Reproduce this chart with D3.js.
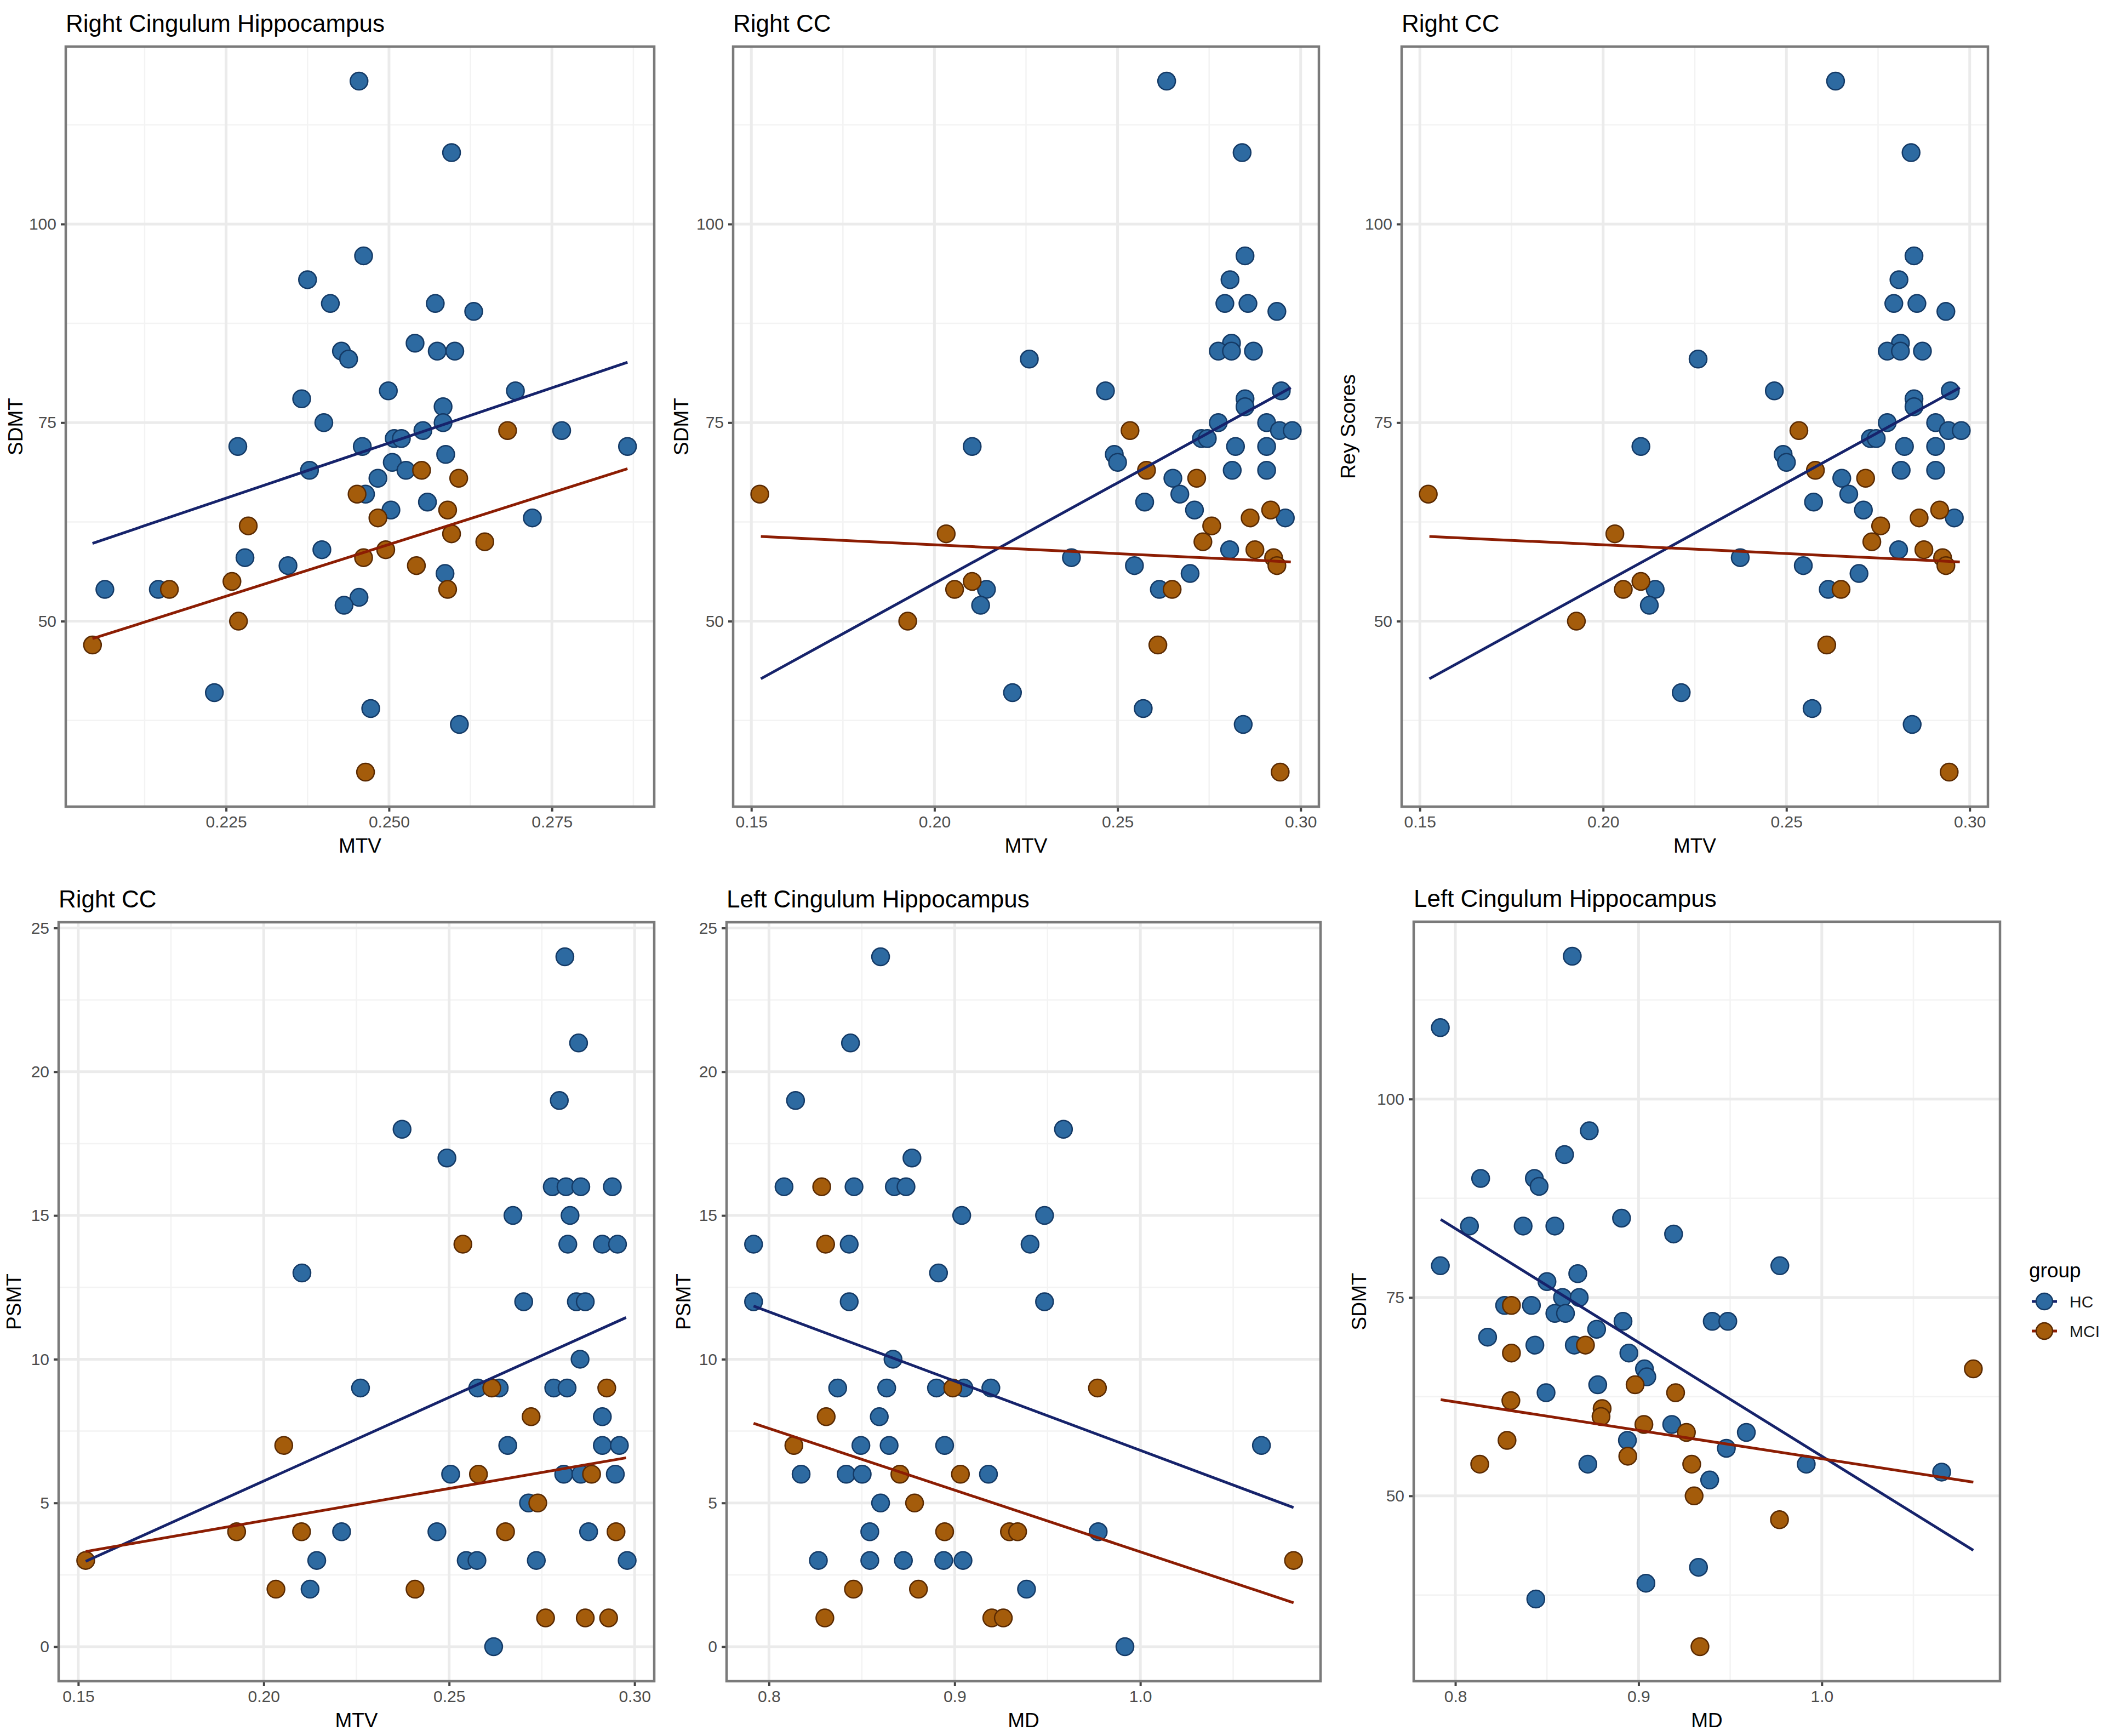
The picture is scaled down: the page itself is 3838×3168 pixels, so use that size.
<!DOCTYPE html>
<html><head><meta charset="utf-8">
<script src="https://cdn.jsdelivr.net/npm/d3@7"></script>
<style>
body{margin:0;background:#fff}
svg{display:block}
text{font-family:"Liberation Sans",Arial,Helvetica,sans-serif}
</style></head>
<body><svg id="chart" width="3838" height="3168"></svg>
<script>
// ---------------- DATA ----------------
const groups = ["HC", "MCI"];

// Panel 1: Right Cingulum Hippocampus, MTV vs SDMT
const p1HcX = [0.2454,0.2596,0.2461,0.2375,0.2410,0.2571,0.2630,0.2540,0.2427,0.2438,0.2574,0.2601,0.2499,0.2694,0.2366,0.2583,0.2400,0.2583,0.2552,0.2765,0.2268,0.2459,0.2866,0.2508,0.2519,0.2587,0.2505,0.2378,0.2526,0.2483,0.2464,0.2559,0.2503,0.2720,0.2397,0.2279,0.2345,0.2586,0.2064,0.2146,0.2454,0.2431,0.2232,0.2472,0.2608];
const p1HcY = [118,109,96,93,90,90,89,85,84,83,84,84,79,79,78,77,75,75,74,74,72,72,72,73,73,71,70,69,69,68,66,65,64,63,59,58,57,56,54,54,53,52,41,39,37];
const p1MciX = [0.2682,0.2550,0.2607,0.2451,0.2590,0.2483,0.2284,0.2596,0.2647,0.2495,0.2461,0.2542,0.2259,0.2163,0.2590,0.2269,0.2045,0.2464];
const p1MciY = [74,69,68,66,64,63,62,61,60,59,58,57,55,54,54,50,47,31];
const p1HcLine = [[0.2045,59.8],[0.2866,82.6]];
const p1MciLine = [[0.2045,47.8],[0.2866,69.2]];
const p1XTicks = [0.225,0.250,0.275];
const p1YTicks = [50,75,100];

// Panel 2 / 3: Right CC, MTV vs SDMT (and Rey Scores)
const p2HcX = [0.2634,0.2840,0.2848,0.2807,0.2793,0.2856,0.2935,0.2811,0.2775,0.2811,0.2871,0.2259,0.2467,0.2947,0.2848,0.2848,0.2775,0.2907,0.2942,0.2977,0.2103,0.2822,0.2907,0.2729,0.2745,0.2491,0.2500,0.2813,0.2907,0.2651,0.2670,0.2574,0.2710,0.2958,0.2806,0.2374,0.2546,0.2698,0.2142,0.2614,0.2126,0.2213,0.2570,0.2843];
const p2HcY = [118,109,96,93,90,90,89,85,84,84,84,83,79,79,78,77,75,75,74,74,72,72,72,73,73,71,70,69,69,68,66,65,64,63,59,58,57,56,54,54,52,41,39,37];
const p2MciX = [0.2534,0.2579,0.2716,0.1523,0.2918,0.2862,0.2757,0.2032,0.2733,0.2875,0.2926,0.2935,0.2103,0.2055,0.2649,0.1927,0.2610,0.2944];
const p2MciY = [74,69,68,66,64,63,62,61,60,59,58,57,55,54,54,50,47,31];
const p2HcLine = [[0.1526,42.75],[0.2973,79.4]];
const p2MciLine = [[0.1526,60.67],[0.2973,57.46]];
const ccXTicks = [0.15,0.20,0.25,0.30];
const sdmtYTicks = [50,75,100];

// Panel 4: Right CC, MTV vs PSMT
const p4HcX = [0.2812,0.2849,0.2797,0.2373,0.2494,0.2778,0.2815,0.2855,0.2940,0.2672,0.2826,0.2820,0.2913,0.2954,0.2103,0.2701,0.2843,0.2867,0.2853,0.2261,0.2577,0.2635,0.2782,0.2818,0.2913,0.2658,0.2913,0.2959,0.2504,0.2809,0.2855,0.2948,0.2714,0.2210,0.2467,0.2876,0.2143,0.2546,0.2575,0.2735,0.2980,0.2125,0.2620];
const p4HcY = [24,21,19,18,17,16,16,16,16,15,15,14,14,14,13,12,12,12,10,9,9,9,9,9,8,7,7,7,6,6,6,6,5,4,4,4,3,3,3,3,3,2,0];
const p4MciX = [0.2537,0.2615,0.2925,0.2721,0.2054,0.2579,0.2884,0.2739,0.1927,0.2102,0.2652,0.2950,0.1520,0.2033,0.2408,0.2760,0.2867,0.2930];
const p4MciY = [14,9,9,8,7,6,6,5,4,4,4,4,3,2,2,1,1,1];
const p4HcLine = [[0.1520,2.97],[0.2977,11.45]];
const p4MciLine = [[0.1520,3.31],[0.2977,6.57]];
const psmtYTicks = [0,5,10,15,20,25];

// Panel 5: Left Cingulum Hippocampus, MD vs PSMT
const p5HcX = [0.8601,0.8439,0.8143,0.9586,0.8770,0.8081,0.8458,0.8675,0.8738,0.9038,0.9484,0.7917,0.8432,0.9406,0.8913,0.7917,0.8432,0.9484,0.8668,0.8370,0.8634,0.8902,0.9050,0.9195,0.8594,0.8495,0.8647,0.8946,1.0652,0.8173,0.8416,0.8502,0.9182,0.8601,0.8543,0.9773,0.8266,0.8543,0.8724,0.8941,0.9045,0.9387,0.9917];
const p5HcY = [24,21,19,18,17,16,16,16,16,15,15,14,14,14,13,12,12,12,10,9,9,9,9,9,8,7,7,7,7,6,6,6,6,5,4,4,3,3,3,3,3,2,0];
const p5MciX = [0.8284,0.8305,0.8990,0.9769,0.8308,0.8134,0.8705,0.9031,0.8784,0.8946,0.9295,0.9339,1.0825,0.8455,0.8805,0.8301,0.9200,0.9262];
const p5MciY = [16,14,9,9,8,7,6,6,5,4,4,4,3,2,2,1,1,1];
const p5HcLine = [[0.7917,11.85],[1.0825,4.84]];
const p5MciLine = [[0.7917,7.77],[1.0825,1.53]];
const mdXTicks = [0.8,0.9,1.0];

// Panel 6: Left Cingulum Hippocampus, MD vs SDMT
const p6HcX = [0.8638,0.7918,0.8731,0.8596,0.8138,0.8431,0.8457,0.8907,0.8077,0.8370,0.8543,0.9191,0.7918,0.9771,0.8668,0.8500,0.8585,0.8676,0.8269,0.8415,0.8915,0.9402,0.9487,0.8543,0.8601,0.8771,0.8176,0.8434,0.8649,0.8947,0.9032,0.9045,0.8777,0.8495,0.9181,0.9588,0.8939,0.9479,0.8723,0.9915,1.0654,0.9388,0.9327,0.9040,0.8439];
const p6HcY = [118,109,96,93,90,90,89,85,84,84,84,83,79,79,78,77,75,75,74,74,72,72,72,73,73,71,70,69,69,68,66,65,64,63,59,58,57,56,54,54,53,52,41,39,37];
const p6MciX = [0.8306,0.8710,0.8306,1.0827,0.8981,0.9202,0.8303,0.8801,0.8795,0.9029,0.9261,0.8282,0.8941,0.8133,0.9290,0.9303,0.9769,0.9335];
const p6MciY = [74,69,68,66,64,63,62,61,60,59,58,57,55,54,54,50,47,31];
const p6HcLine = [[0.7920,84.83],[1.0827,43.14]];
const p6MciLine = [[0.7920,62.12],[1.0827,51.73]];

// ---------------- STYLE / LAYOUT ----------------
const COL = {
  HC:  {fill:"#2d6aa1", stroke:"#143a66", line:"#16236b"},
  MCI: {fill:"#a45c0b", stroke:"#5a2a02", line:"#8c1d03"}
};
const panels = [
  {title:"Right Cingulum Hippocampus", xlab:"MTV", ylab:"SDMT", l:120,  r:1194, t:85,   b:1472, yl:28,
   hcX:p1HcX, hcY:p1HcY, mciX:p1MciX, mciY:p1MciY, hcL:p1HcLine, mciL:p1MciLine, xt:p1XTicks, yt:p1YTicks, xf:".3f"},
  {title:"Right CC", xlab:"MTV", ylab:"SDMT", l:1338, r:2407, t:85, b:1472, yl:1243,
   hcX:p2HcX, hcY:p2HcY, mciX:p2MciX, mciY:p2MciY, hcL:p2HcLine, mciL:p2MciLine, xt:ccXTicks, yt:sdmtYTicks, xf:".2f"},
  {title:"Right CC", xlab:"MTV", ylab:"Rey Scores", l:2558, r:3628, t:85, b:1472, yl:2460,
   hcX:p2HcX, hcY:p2HcY, mciX:p2MciX, mciY:p2MciY, hcL:p2HcLine, mciL:p2MciLine, xt:ccXTicks, yt:sdmtYTicks, xf:".2f"},
  {title:"Right CC", xlab:"MTV", ylab:"PSMT", l:107, r:1194, t:1683, b:3068, yl:25,
   hcX:p4HcX, hcY:p4HcY, mciX:p4MciX, mciY:p4MciY, hcL:p4HcLine, mciL:p4MciLine, xt:ccXTicks, yt:psmtYTicks, xf:".2f"},
  {title:"Left Cingulum Hippocampus", xlab:"MD", ylab:"PSMT", l:1326, r:2410, t:1683, b:3068, yl:1247,
   hcX:p5HcX, hcY:p5HcY, mciX:p5MciX, mciY:p5MciY, hcL:p5HcLine, mciL:p5MciLine, xt:mdXTicks, yt:psmtYTicks, xf:".1f"},
  {title:"Left Cingulum Hippocampus", xlab:"MD", ylab:"SDMT", l:2580, r:3650, t:1682, b:3068, yl:2480,
   hcX:p6HcX, hcY:p6HcY, mciX:p6MciX, mciY:p6MciY, hcL:p6HcLine, mciL:p6MciLine, xt:mdXTicks, yt:sdmtYTicks, xf:".1f"}
];

const svg = d3.select("#chart");
svg.append("rect").attr("width",3838).attr("height",3168).attr("fill","#fff");

function expand(vals){
  const [a,b] = d3.extent(vals); const d=(b-a)*0.05; return [a-d,b+d];
}
function minors(ticks, dom){
  const s = ticks[1]-ticks[0], out=[];
  for(let v=ticks[0]-s/2; v<=dom[1]; v+=s){ if(v>=dom[0]) out.push(v); }
  return out;
}

panels.forEach(p=>{
  const allX = p.hcX.concat(p.mciX, p.hcL.map(d=>d[0]), p.mciL.map(d=>d[0]));
  const allY = p.hcY.concat(p.mciY, p.hcL.map(d=>d[1]), p.mciL.map(d=>d[1]));
  const x = d3.scaleLinear().domain(expand(allX)).range([p.l,p.r]);
  const y = d3.scaleLinear().domain(expand(allY)).range([p.b,p.t]);
  const g = svg.append("g");

  // minor grid
  g.selectAll(".mx").data(minors(p.xt,x.domain())).join("line")
    .attr("x1",d=>x(d)).attr("x2",d=>x(d)).attr("y1",p.t).attr("y2",p.b)
    .attr("stroke","#f3f3f3").attr("stroke-width",2.5);
  g.selectAll(".my").data(minors(p.yt,y.domain())).join("line")
    .attr("y1",d=>y(d)).attr("y2",d=>y(d)).attr("x1",p.l).attr("x2",p.r)
    .attr("stroke","#f3f3f3").attr("stroke-width",2.5);
  // major grid
  g.selectAll(".gx").data(p.xt).join("line")
    .attr("x1",d=>x(d)).attr("x2",d=>x(d)).attr("y1",p.t).attr("y2",p.b)
    .attr("stroke","#ebebeb").attr("stroke-width",5);
  g.selectAll(".gy").data(p.yt).join("line")
    .attr("y1",d=>y(d)).attr("y2",d=>y(d)).attr("x1",p.l).attr("x2",p.r)
    .attr("stroke","#ebebeb").attr("stroke-width",5);

  // axes
  const xa = g.append("g").attr("transform",`translate(0,${p.b})`)
    .call(d3.axisBottom(x).tickValues(p.xt).tickFormat(d3.format(p.xf)).tickSize(9).tickPadding(8));
  const ya = g.append("g").attr("transform",`translate(${p.l},0)`)
    .call(d3.axisLeft(y).tickValues(p.yt).tickFormat(d3.format("d")).tickSize(9).tickPadding(8));
  [xa,ya].forEach(a=>{
    a.select(".domain").remove();
    a.selectAll(".tick line").attr("stroke","#444").attr("stroke-width",4);
    a.selectAll(".tick text").attr("fill","#4d4d4d").style("font-size","30px")
      .style("font-family","'Liberation Sans',Arial,sans-serif");
  });

  // points
  const pts = (xs,ys,grp)=> xs.map((v,i)=>({x:v,y:ys[i],g:grp}));
  const data = pts(p.hcX,p.hcY,"HC").concat(pts(p.mciX,p.mciY,"MCI"));
  g.selectAll(".pt").data(data).join("circle")
    .attr("cx",d=>x(d.x)).attr("cy",d=>y(d.y)).attr("r",16)
    .attr("fill",d=>COL[d.g].fill).attr("stroke",d=>COL[d.g].stroke).attr("stroke-width",2.5);

  // regression lines
  const line = d3.line().x(d=>x(d[0])).y(d=>y(d[1]));
  [["HC",p.hcL],["MCI",p.mciL]].forEach(([grp,L])=>{
    g.append("path").attr("d",line(L)).attr("fill","none")
      .attr("stroke",COL[grp].line).attr("stroke-width",5);
  });

  // border
  g.append("rect").attr("x",p.l).attr("y",p.t).attr("width",p.r-p.l).attr("height",p.b-p.t)
    .attr("fill","none").attr("stroke","#7a7a7a").attr("stroke-width",4.5);

  // titles
  g.append("text").attr("x",p.l).attr("y",p.t-27).text(p.title)
    .style("font-size","44px").attr("fill","#000");
  g.append("text").attr("x",(p.l+p.r)/2).attr("y",p.b+84).attr("text-anchor","middle")
    .text(p.xlab).style("font-size","37px").attr("fill","#000");
  g.append("text").attr("transform",`translate(${p.yl+13},${(p.t+p.b)/2}) rotate(-90)`)
    .attr("text-anchor","middle").text(p.ylab).style("font-size","37px").attr("fill","#000");
});

// legend
const lg = svg.append("g");
lg.append("text").attr("x",3703).attr("y",2331).text("group").style("font-size","37px").attr("fill","#000");
groups.forEach((grp,i)=>{
  const cy = 2375 + i*54;
  lg.append("line").attr("x1",3708).attr("x2",3754).attr("y1",cy).attr("y2",cy)
    .attr("stroke",COL[grp].line).attr("stroke-width",5);
  lg.append("circle").attr("cx",3731).attr("cy",cy).attr("r",15)
    .attr("fill",COL[grp].fill).attr("stroke",COL[grp].stroke).attr("stroke-width",2.5);
  lg.append("text").attr("x",3777).attr("y",cy+11).text(grp).style("font-size","30px").attr("fill","#1a1a1a");
});
</script>
</body></html>
